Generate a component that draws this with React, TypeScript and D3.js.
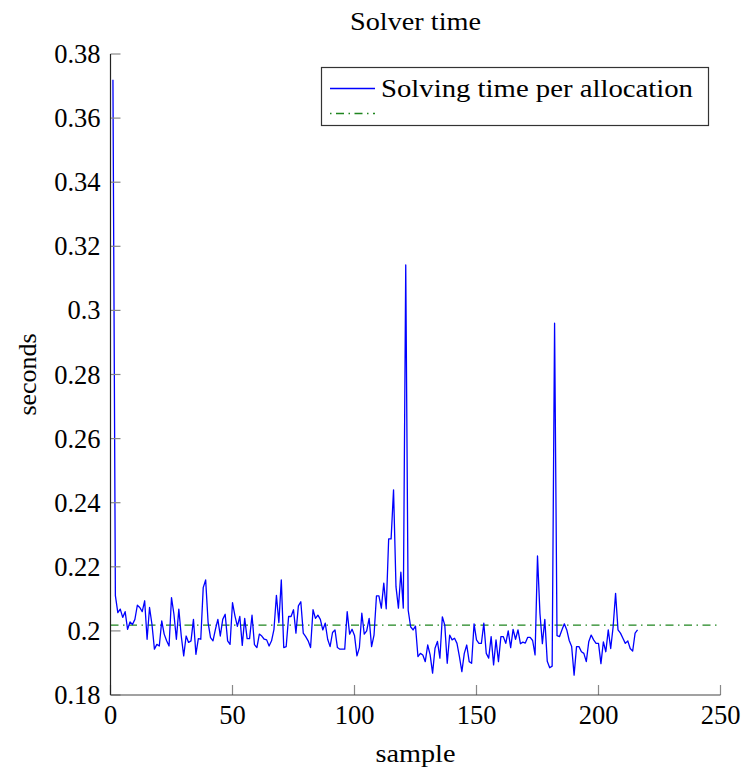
import React from "react";
import * as d3 from "d3";

const title = "Solver time";
const xLabel = "sample";
const yLabel = "seconds";
const seriesName = "Solving time per allocation";

// solving time per allocation, samples 1..216 (seconds)
const solveTimes = [
  0.372, 0.211, 0.2057, 0.2068, 0.2042, 0.206, 0.2005, 0.2028, 0.202, 0.2036,
  0.208, 0.2073, 0.206, 0.2094, 0.1974, 0.2073, 0.202, 0.1943, 0.1958, 0.1953,
  0.2031, 0.199, 0.1969, 0.1953, 0.2104, 0.2052, 0.1974, 0.2068, 0.1984, 0.1922,
  0.1984, 0.1964, 0.1969, 0.2036, 0.1927, 0.1976, 0.1974, 0.2135, 0.2159, 0.2026,
  0.1979, 0.1969, 0.2005, 0.2036, 0.1984, 0.2036, 0.2052, 0.1969, 0.1958, 0.2088,
  0.2047, 0.2014, 0.2045, 0.1955, 0.2039, 0.1976, 0.1976, 0.2049, 0.1957, 0.1948,
  0.199, 0.1984, 0.1974, 0.1972, 0.1953, 0.1969, 0.2005, 0.2111, 0.2026, 0.2159,
  0.1948, 0.1951, 0.2045, 0.2045, 0.2066, 0.1993, 0.2078, 0.2091, 0.1993, 0.1982,
  0.1969, 0.1948, 0.2066, 0.2039, 0.2049, 0.2036, 0.2003, 0.2024, 0.1974, 0.1951,
  0.1995, 0.2003, 0.1948, 0.1943, 0.1943, 0.1943, 0.206, 0.199, 0.2005, 0.1986,
  0.1922, 0.1948, 0.2055, 0.199, 0.2, 0.2039, 0.1951, 0.1987, 0.2109, 0.2109,
  0.2071, 0.2149, 0.2069, 0.2287, 0.2287, 0.244, 0.2138, 0.2071, 0.2183, 0.2071,
  0.3142, 0.2065, 0.2013, 0.2003, 0.2015, 0.192, 0.193, 0.1925, 0.1904, 0.1956,
  0.1925, 0.1868, 0.1946, 0.1967, 0.1915, 0.2044, 0.2018, 0.1899, 0.1987, 0.1972,
  0.1977, 0.1961, 0.192, 0.1873, 0.193, 0.1956, 0.1904, 0.1899, 0.2022, 0.1972,
  0.1961, 0.1961, 0.2024, 0.193, 0.1915, 0.1982, 0.1894, 0.1972, 0.1904, 0.1982,
  0.1982, 0.1961, 0.2, 0.1948, 0.2005, 0.1974, 0.2003, 0.196, 0.1965, 0.1962,
  0.198, 0.198, 0.197, 0.1925, 0.2234, 0.2055, 0.196, 0.2036, 0.1905, 0.1885,
  0.189, 0.296, 0.1985, 0.1982, 0.2003, 0.2022, 0.2003, 0.197, 0.1951, 0.1862,
  0.1951, 0.1951, 0.1935, 0.193, 0.1904, 0.1966, 0.1987, 0.1972, 0.1961, 0.1961,
  0.1898, 0.1966, 0.1935, 0.2003, 0.1945, 0.2013, 0.2117, 0.2003, 0.1993, 0.1977,
  0.1961, 0.1969, 0.1945, 0.1937, 0.1993, 0.2003,
];

const meanTime = 0.2018;
const xTicks = [0, 50, 100, 150, 200, 250];
const yTicks = [0.18, 0.2, 0.22, 0.24, 0.26, 0.28, 0.3, 0.32, 0.34, 0.36, 0.38];
const yTickLabels = ["0.18", "0.2", "0.22", "0.24", "0.26", "0.28", "0.3", "0.32", "0.34", "0.36", "0.38"];

const W = 744;
const H = 774;
const left = 110.5;
const right = 720.5;
const top = 54;
const bottom = 695;
const font = '"Liberation Serif", "DejaVu Serif", serif';
const ts: React.CSSProperties = { fontFamily: font };

export default function App() {
  const x = d3.scaleLinear().domain([0, 250]).range([left, right]);
  const y = d3.scaleLinear().domain([0.18, 0.38]).range([bottom, top]);
  const pts: [number, number][] = solveTimes.map((v, i) => [i + 1, v]);
  const line = d3
    .line<[number, number]>()
    .x((d) => x(d[0]))
    .y((d) => y(d[1]));
  const meanPts: [number, number][] = [
    [0, meanTime],
    [250, meanTime],
  ];
  const dash = "8,4.5,1.5,4.5";

  return (
    <svg
      width={W}
      height={H}
      style={{ position: "absolute", left: 0, top: 0, background: "#fff", fontFamily: font }}
    >
      <text x={(left + right) / 2} y={30} textAnchor="middle" fontSize={26} style={ts} textLength={131} lengthAdjust="spacingAndGlyphs">
        {title}
      </text>

      <path d={line(meanPts) || ""} fill="none" stroke="#1f851f" strokeWidth={1.3} strokeDasharray={dash} />

      <path d={line(pts) || ""} fill="none" stroke="#0000ff" strokeWidth={1.3} strokeLinejoin="round" />

      {yTicks.map((t, i) => (
        <g key={"y" + i}>
          <line x1={left} x2={left + 10} y1={y(t)} y2={y(t)} stroke="#888" strokeWidth={1.2} />
          <text x={left - 10} y={y(t) + 9} textAnchor="end" fontSize={26.5} style={ts}>
            {yTickLabels[i]}
          </text>
        </g>
      ))}

      {xTicks.map((t, i) => (
        <g key={"x" + i}>
          <line x1={x(t)} x2={x(t)} y1={bottom} y2={bottom - 10} stroke="#888" strokeWidth={1.2} />
          <text x={x(t)} y={bottom + 29} textAnchor="middle" fontSize={26.5} style={ts}>
            {String(t)}
          </text>
        </g>
      ))}

      <line x1={left} x2={left} y1={top} y2={bottom} stroke="#222" strokeWidth={1.2} />
      <line x1={left} x2={right} y1={bottom} y2={bottom} stroke="#444" strokeWidth={1.2} />

      <text x={(left + right) / 2} y={762} textAnchor="middle" fontSize={26} style={ts} textLength={80} lengthAdjust="spacingAndGlyphs">
        {xLabel}
      </text>
      <text
        transform={`translate(36, ${(top + bottom) / 2}) rotate(-90)`}
        textAnchor="middle"
        fontSize={26}
        style={ts}
        textLength={82}
        lengthAdjust="spacingAndGlyphs"
      >
        {yLabel}
      </text>

      <rect x={321.5} y={67.5} width={387} height={58} fill="#fff" stroke="#333" strokeWidth={1.2} />
      <line x1={330} x2={375} y1={88.5} y2={88.5} stroke="#0000ff" strokeWidth={1.3} />
      <text x={381} y={97} fontSize={26} style={ts} textLength={312} lengthAdjust="spacingAndGlyphs">
        {seriesName}
      </text>
      <line x1={330} x2={375} y1={113.5} y2={113.5} stroke="#1f851f" strokeWidth={1.3} strokeDasharray="1.5,4.5,8,4.5" />
    </svg>
  );
}
